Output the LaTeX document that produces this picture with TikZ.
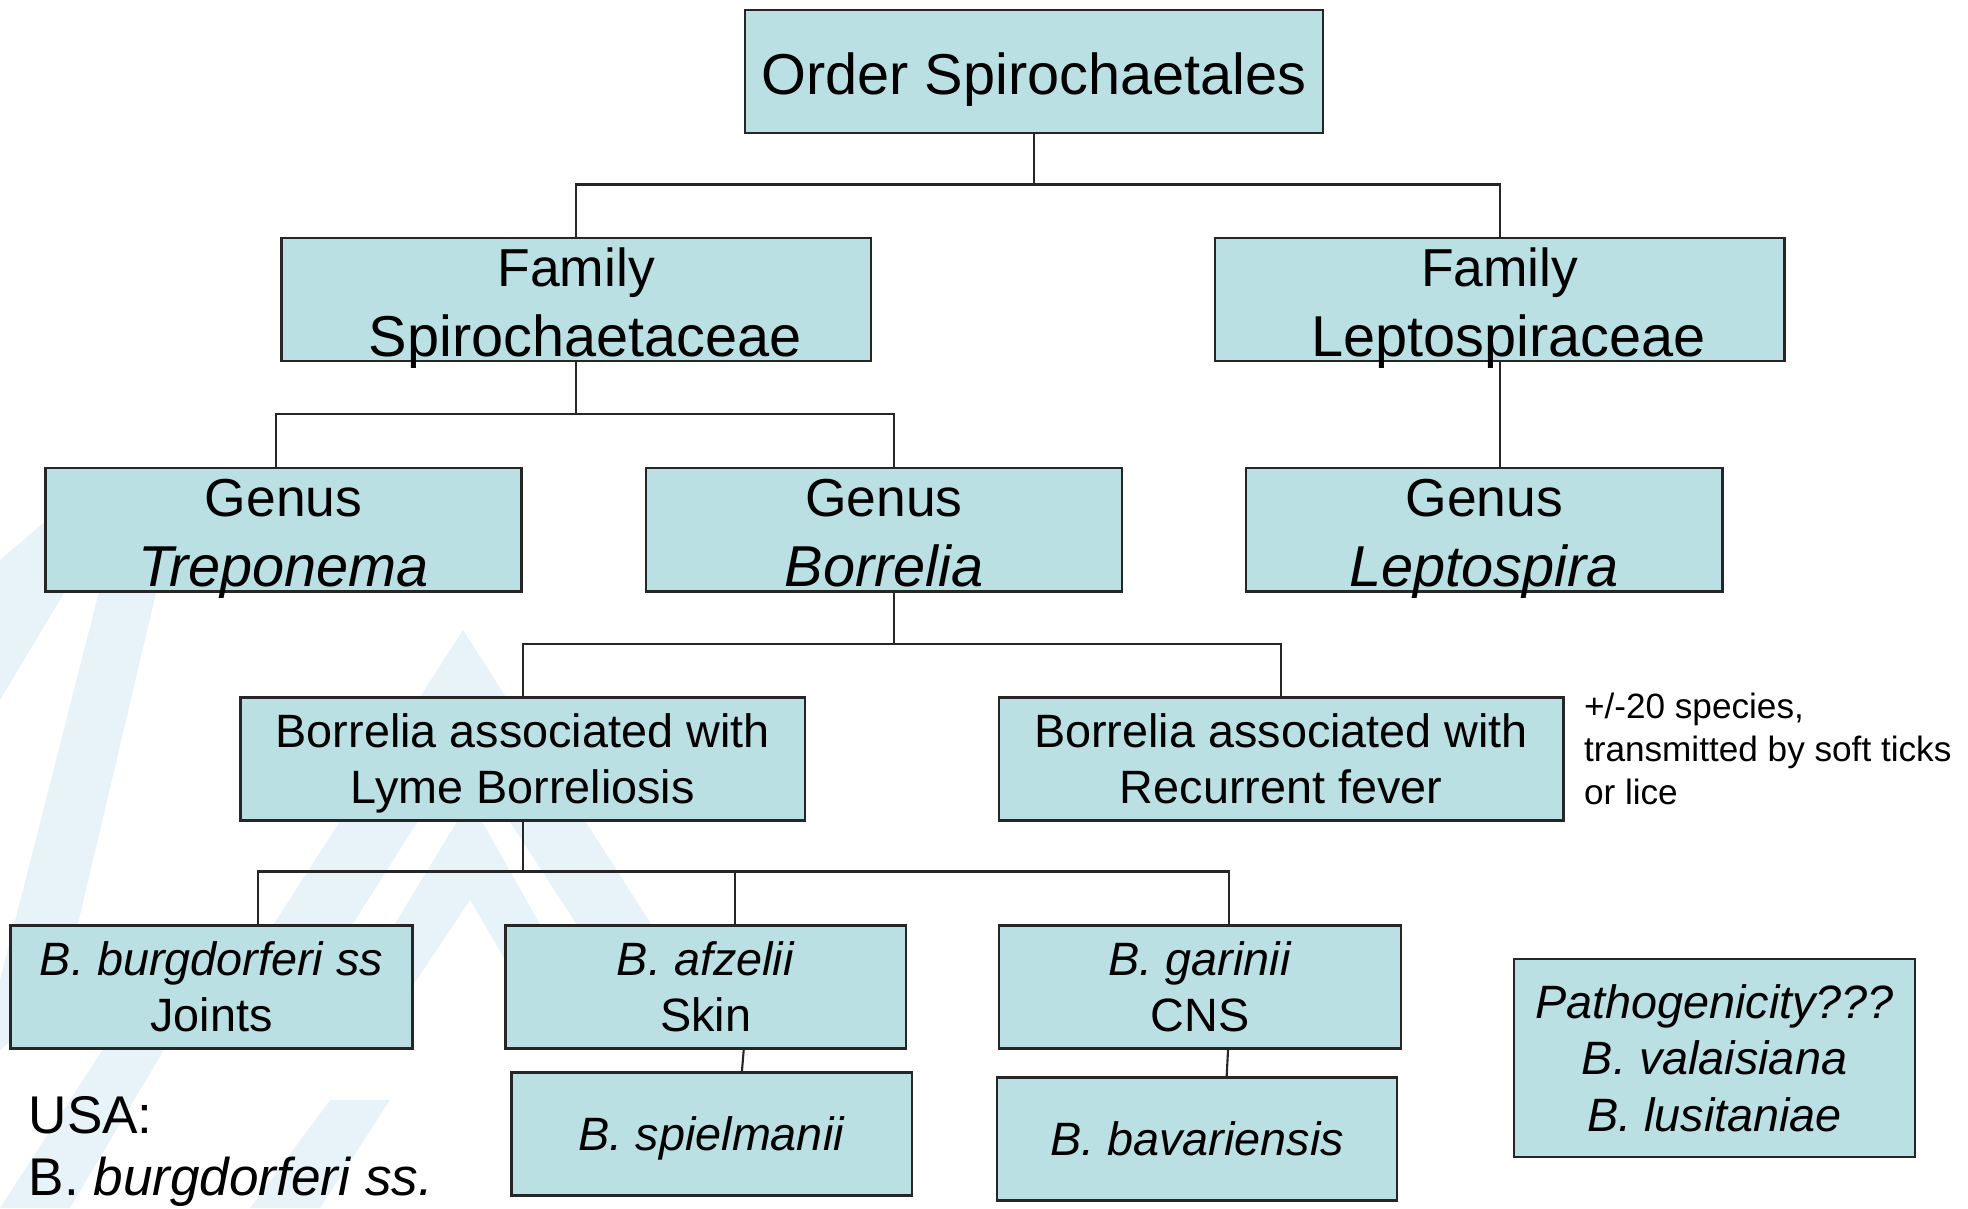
\documentclass[tikz,border=0pt]{standalone}
\usepackage{fontspec}
\setmainfont{Liberation Sans}
\usepackage{tikz}
\usetikzlibrary{positioning}
\definecolor{boxfill}{RGB}{186,224,228}
\definecolor{markfill}{RGB}{232,243,249}
\newcommand{\ranklabel}[1]{{\fontsize{15.2pt}{19.9pt}\selectfont #1}}
\tikzstyle{taxon} = [rectangle, draw=black!85, line width=0.7pt, fill=boxfill, align=center, inner sep=0pt, outer sep=0pt, minimum height=1.23cm]
\tikzstyle{toptext} = [font=\fontsize{16.4pt}{19.9pt}\selectfont, text height=24pt, text depth=10.7pt]
\tikzstyle{bigtext} = [font=\fontsize{16.4pt}{19.9pt}\selectfont, text height=33.4pt, text depth=1.2pt]
\tikzstyle{midtext} = [font=\fontsize{13.3pt}{15.8pt}\selectfont, text height=30pt, text depth=4.7pt]
\tikzstyle{onetext} = [font=\fontsize{13.3pt}{15.8pt}\selectfont, text height=22pt, text depth=12.8pt]
\tikzstyle{link} = [line width=0.6pt, draw=black!85]

\begin{document}
\begin{tikzpicture}[x=0.01cm, y=-0.01cm]
    \useasboundingbox (0,0) rectangle (1968,1208);
    % faint logo in the background
    \fill[markfill] (463,630) -- (655,930) -- (600,960) -- (463,750) -- (330,960) -- (270,930) -- cycle;
    \fill[markfill] (470,800) -- (560,960) -- (520,985) -- (470,900) -- (410,990) -- (370,965) -- cycle;
    \fill[markfill] (0,560) -- (70,500) -- (120,500) -- (0,700) -- cycle;
    \fill[markfill] (130,470) -- (185,470) -- (60,1000) -- (0,1050) -- (0,980) -- cycle;
    \fill[markfill] (0,1208) -- (180,930) -- (235,930) -- (70,1208) -- cycle;
    \fill[markfill] (250,1208) -- (330,1100) -- (390,1100) -- (320,1208) -- cycle;

    \node[taxon, toptext, minimum width=5.78cm] (order) at (1034,71.5) {Order Spirochaetales};
    \node[taxon, bigtext, minimum width=5.89cm, below=1.05cm of order, xshift=-4.575cm] (famS) {\ranklabel{Family}\\\hspace*{0.18cm}Spirochaetaceae};
    \node[taxon, bigtext, minimum width=5.69cm, right=3.44cm of famS] (famL) {\ranklabel{Family}\\\hspace*{0.18cm}Leptospiraceae};
    \node[taxon, bigtext, minimum width=4.76cm, below=1.07cm of famS, xshift=-2.925cm] (trep) {\ranklabel{Genus}\\\textit{Treponema}};
    \node[taxon, bigtext, minimum width=4.76cm, right=1.24cm of trep] (borr) {\ranklabel{Genus}\\\textit{Borrelia}};
    \node[taxon, bigtext, minimum width=4.76cm, right=1.24cm of borr] (lept) {\ranklabel{Genus}\\\textit{Leptospira}};
    \node[taxon, midtext, minimum width=5.64cm, below=1.06cm of borr, xshift=-3.61cm] (lyme) {Borrelia associated with\\Lyme Borreliosis};
    \node[taxon, midtext, minimum width=5.64cm, right=1.94cm of lyme] (recur) {Borrelia associated with\\Recurrent fever};
    \node[taxon, midtext, minimum width=4.02cm, below=1.05cm of lyme, xshift=-3.11cm] (bbss) {\textit{B. burgdorferi ss}\\Joints};
    \node[taxon, midtext, minimum width=4.0cm, right=0.93cm of bbss] (afz) {\textit{B. afzelii}\\Skin};
    \node[taxon, midtext, minimum width=4.02cm, right=0.93cm of afz] (gar) {\textit{B. garinii}\\CNS};
    \node[taxon, onetext, minimum width=4.0cm, below=0.24cm of afz, xshift=0.06cm] (spiel) {\textit{B. spielmanii}};
    \node[taxon, onetext, minimum width=4.0cm, below=0.29cm of gar, xshift=-0.03cm] (bav) {\textit{B. bavariensis}};
    \node[taxon, font=\fontsize{13.3pt}{16.1pt}\selectfont, minimum width=4.01cm, minimum height=1.98cm] (path) at (1714.5,1058) {\textit{Pathogenicity???}\\\textit{B. valaisiana}\\\textit{B. lusitaniae}};
    \node[right=0.2cm of recur, yshift=0.1cm, align=left, inner sep=0pt, font=\fontsize{10pt}{12.15pt}\selectfont] (note) {+/-20 species,\\transmitted by soft ticks\\or lice};
    \node[anchor=north west, inner sep=0pt, align=left, font=\fontsize{15.1pt}{17.6pt}\selectfont] (usa) at (28,1096) {USA:\\B. \textit{burgdorferi ss.}};

    \draw[link] (order.south) -- ++(0,51.5) -| (famS.north);
    \draw[link] (order.south) -- ++(0,51.5) -| (famL.north);
    \draw[link] (famS.south) -- ++(0,53) -| ([xshift=-0.08cm]trep.north);
    \draw[link] (famS.south) -- ++(0,53) -| ([xshift=0.1cm]borr.north);
    \draw[link] (famL.south) -- (famL.south |- lept.north);
    \draw[link] ([xshift=0.1cm]borr.south) -- ++(0,53) -| (lyme.north);
    \draw[link] ([xshift=0.1cm]borr.south) -- ++(0,53) -| (recur.north);
    \draw[link] (lyme.south) -- ++(0,51) -| ([xshift=0.465cm]bbss.north);
    \draw[link] (lyme.south) -- ++(0,51) -| ([xshift=0.295cm]afz.north);
    \draw[link] (lyme.south) -- ++(0,51) -| ([xshift=0.29cm]gar.north);
    \draw[link] ([xshift=0.38cm]afz.south) -- ([xshift=0.3cm]spiel.north);
    \draw[link] ([xshift=0.28cm]gar.south) -- ([xshift=0.295cm]bav.north);
\end{tikzpicture}
\end{document}
